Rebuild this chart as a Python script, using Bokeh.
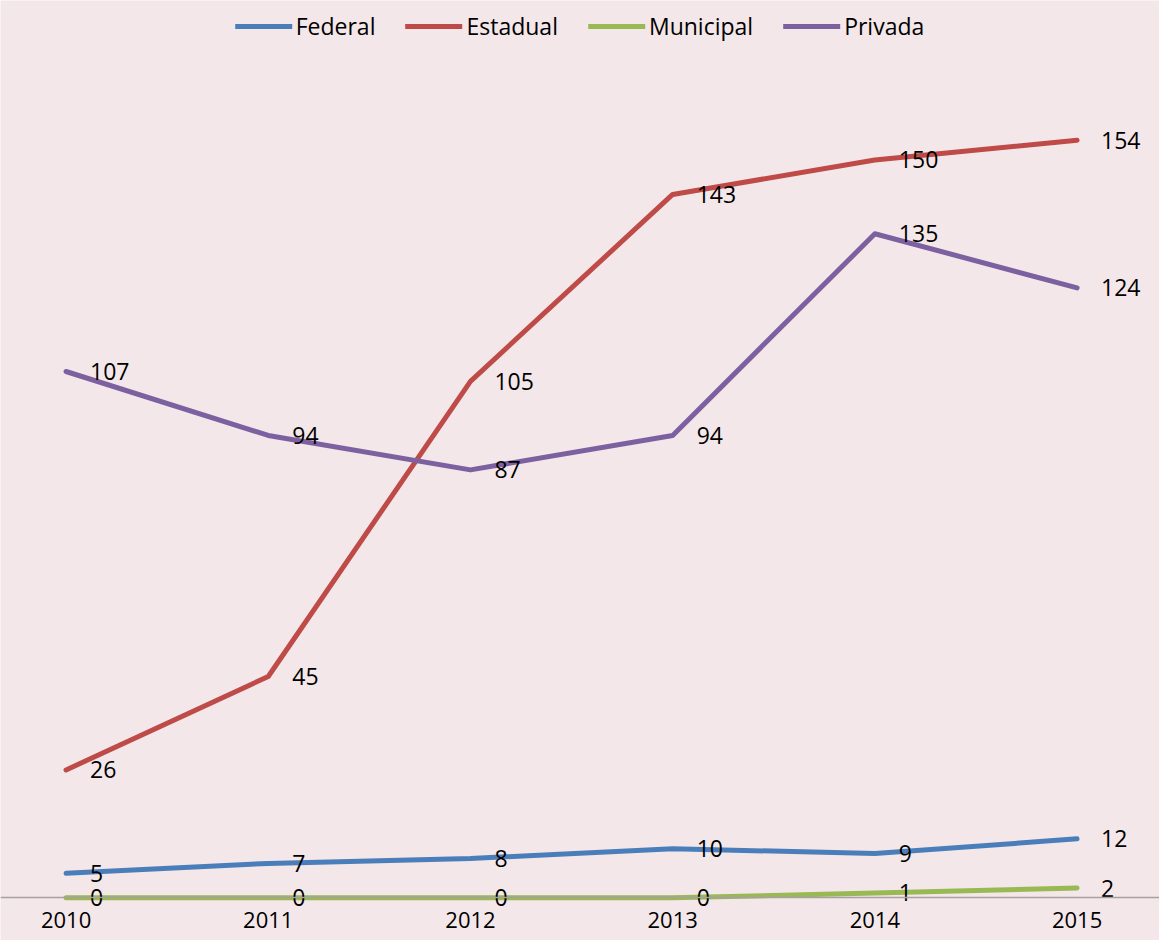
from bokeh.plotting import figure
from bokeh.models import Range1d, FixedTicker, Legend, LegendItem, ColumnDataSource, LinearAxis
from bokeh.core.properties import value
from bokeh.embed import file_html
from bokeh.resources import INLINE

years = [2010, 2011, 2012, 2013, 2014, 2015]
year_labels = ["2010", "2011", "2012", "2013", "2014", "2015"]
federal = [5, 7, 8, 10, 9, 12]
estadual = [26, 45, 105, 143, 150, 154]
municipal = [0, 0, 0, 0, 1, 2]
privada = [107, 94, 87, 94, 135, 124]

series = [
    ("Federal", federal, "#4A7EBB"),
    ("Estadual", estadual, "#BE4B48"),
    ("Municipal", municipal, "#98B954"),
    ("Privada", privada, "#7D60A0"),
]

BG = "#F4E7E9"
FONT = "Open Sans"

p = figure(width=1159, height=940, output_backend="svg", toolbar_location=None,
           x_range=Range1d(2009.6758, 2015.4077), y_range=Range1d(-8.668, 182.42),
           x_axis_location=None, y_axis_location=None,
           min_border=0, min_border_left=0, min_border_right=0,
           min_border_top=0, min_border_bottom=0,
           background_fill_color=BG, border_fill_color=BG, outline_line_color=None)
p.grid.visible = False

xaxis = LinearAxis(fixed_location=0, ticker=FixedTicker(ticks=years),
                   major_label_overrides={y: s for y, s in zip(years, year_labels)},
                   axis_line_color="#A6A0A0", axis_line_width=1.5,
                   major_tick_line_color=None, minor_tick_line_color=None,
                   major_tick_out=0, major_tick_in=0, major_label_standoff=14,
                   major_label_text_font=FONT, major_label_text_font_size="22px",
                   major_label_text_color="#000000")
p.add_layout(xaxis, "below")

items = []
for name, vals, color in series:
    r = p.line(years, vals, line_color=color, line_width=5, line_cap="round", line_join="round")
    items.append(LegendItem(label=name, renderers=[r]))

for name, vals, color in series:
    src = ColumnDataSource(dict(x=years, y=vals, t=[str(v) for v in vals]))
    p.text("x", "y", text="t", source=src, x_offset=24, text_align="left",
           text_baseline="middle", text_font=value(FONT), text_font_size="23px",
           text_color="#000000")

legend = Legend(items=items, location="top_center", orientation="horizontal",
                background_fill_alpha=0, border_line_alpha=0,
                glyph_width=57, glyph_height=20, label_standoff=4, spacing=30,
                padding=0, margin=10, label_text_font=FONT, label_text_font_size="23px",
                label_text_color="#000000")
p.add_layout(legend, "center")

open("out.html", "w").write(file_html(p, INLINE))
